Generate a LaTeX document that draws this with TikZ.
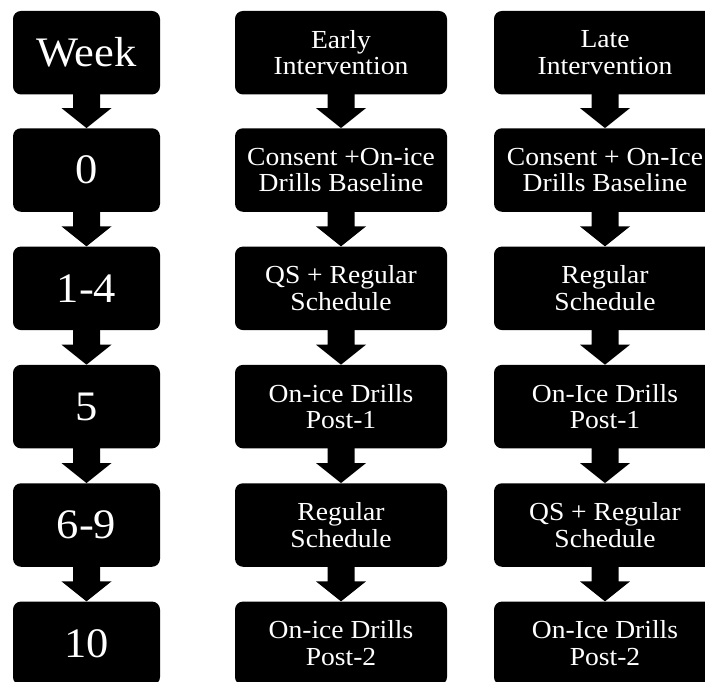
\documentclass[tikz,border=0pt]{standalone}
\usepackage{fontspec}
\setmainfont[FakeStretch=1.06]{Liberation Serif}
\usepackage{tikz}
\usetikzlibrary{calc}
\tikzset{
  stepbox/.style={fill=black,text=white,rounded corners=8pt,inner sep=0pt,
    minimum height=83.5pt,align=center,font=\fontsize{26}{26.5}\selectfont},
  weekbox/.style={stepbox,minimum width=147pt,font=\fontsize{42}{44}\selectfont},
  armbox/.style={stepbox,minimum width=212pt},
  latebox/.style={stepbox,minimum width=222pt}
}
% block arrow from the bottom of one box to the top of the next
\newcommand{\blockarr}[2]{%
  \fill ($(#1.south)+(-13.5,1)$) -- ($(#1.south)+(13.5,1)$) -- ($(#2.north)+(13.5,20)$)
    -- ($(#2.north)+(25,20)$) -- (#2.north) -- ($(#2.north)+(-25,20)$)
    -- ($(#2.north)+(-13.5,20)$) -- cycle;}

\begin{document}
\begin{tikzpicture}[x=1pt,y=1pt]
\clip (0,0) rectangle (705,-681);
\useasboundingbox (0,0) rectangle (705,-681);
% ---- week column ----
\node[weekbox] (wk)  at (86.5,-52.7) {Week};
\node[weekbox] (wk0) at (86.5,-170)  {0};
\node[weekbox] (wk1) at (86.5,-288.3) {1-4};
\node[weekbox] (wk5) at (86.5,-406.6) {5};
\node[weekbox] (wk6) at (86.5,-525)  {6-9};
\node[weekbox] (wk10) at (86.5,-643.3) {10};
% ---- early intervention ----
\node[armbox] (ea)  at (341,-52.7) {Early\\Intervention};
\node[armbox] (ea0) at (341,-170)  {Consent +On-ice\\Drills Baseline};
\node[armbox] (ea1) at (341,-288.3) {QS + Regular\\Schedule};
\node[armbox] (ea5) at (341,-406.6) {On-ice Drills\\Post-1};
\node[armbox] (ea6) at (341,-525)  {Regular\\Schedule};
\node[armbox] (ea10) at (341,-643.3) {On-ice Drills\\Post-2};
% ---- late intervention ----
\node[latebox] (la)  at (605,-52.7) {Late\\Intervention};
\node[latebox] (la0) at (605,-170)  {Consent + On-Ice\\Drills Baseline};
\node[latebox] (la1) at (605,-288.3) {Regular\\Schedule};
\node[latebox] (la5) at (605,-406.6) {On-Ice Drills\\Post-1};
\node[latebox] (la6) at (605,-525)  {QS + Regular\\Schedule};
\node[latebox] (la10) at (605,-643.3) {On-Ice Drills\\Post-2};
% ---- arrows ----
\foreach \c in {wk,ea,la}{
  \blockarr{\c}{\c0}
  \blockarr{\c0}{\c1}
  \blockarr{\c1}{\c5}
  \blockarr{\c5}{\c6}
  \blockarr{\c6}{\c10}
}
\end{tikzpicture}
\end{document}
